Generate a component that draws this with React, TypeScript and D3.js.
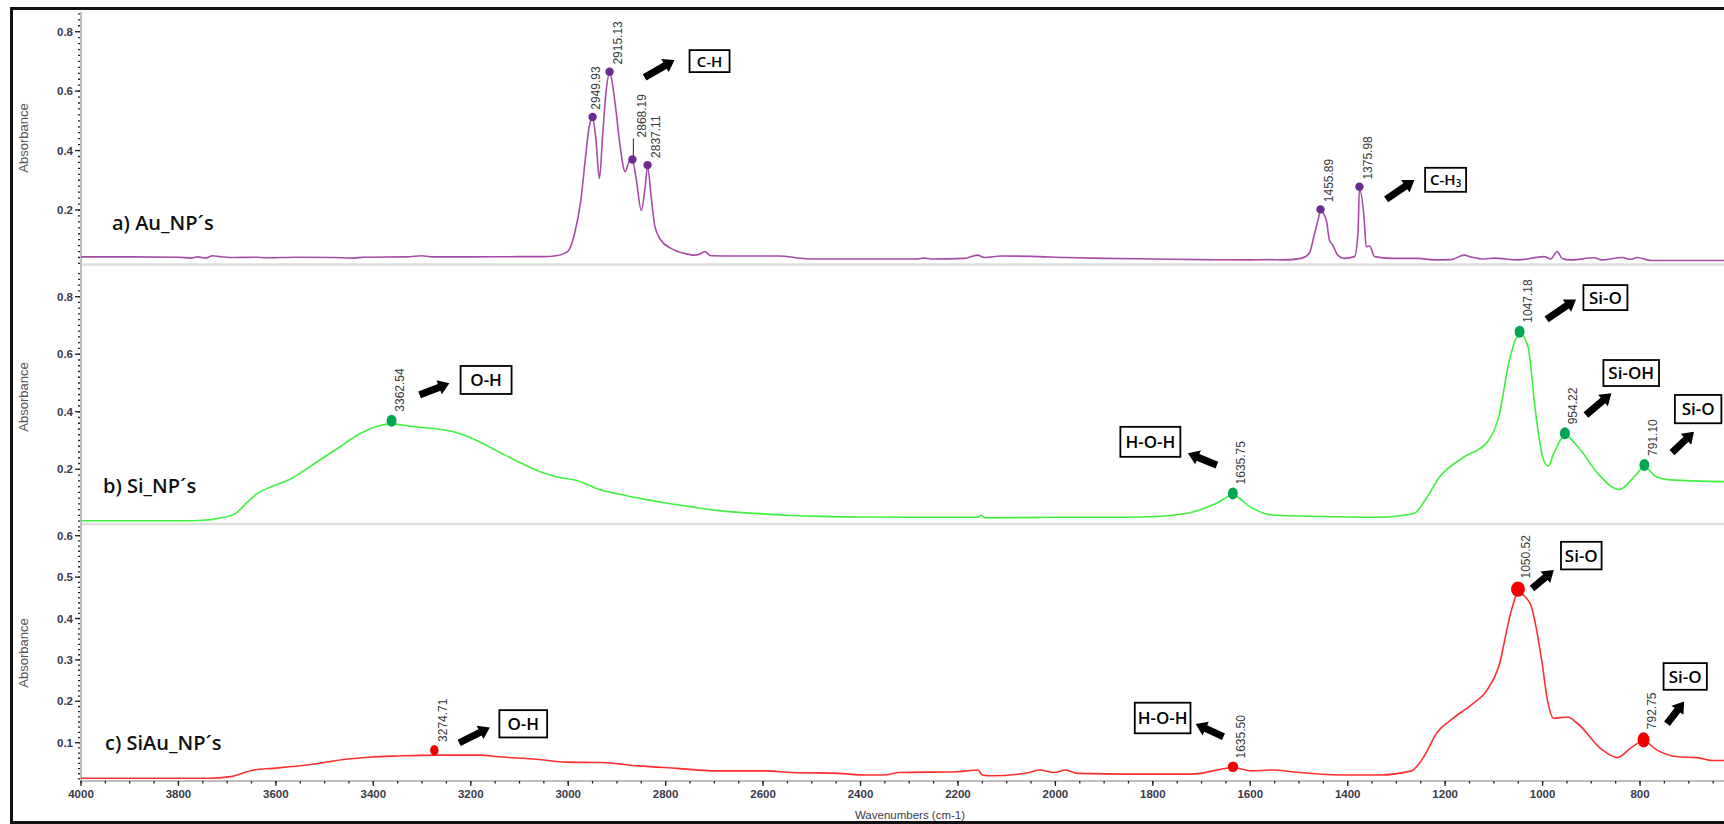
import React from "react";
import * as d3 from "d3";

// ---- spectra: [wavenumber (cm-1), absorbance] ----
const auSpectrum: [number, number][] = [
  [4000, 0.042], [3900, 0.042], [3800, 0.041], [3775, 0.038], [3760, 0.042], [3745, 0.038],
  [3730, 0.046], [3715, 0.043], [3690, 0.040], [3640, 0.041], [3620, 0.039], [3560, 0.041],
  [3480, 0.040], [3440, 0.038], [3420, 0.041], [3330, 0.042], [3300, 0.046], [3280, 0.042],
  [3200, 0.042], [3100, 0.043], [3050, 0.043], [3025, 0.046], [3001, 0.06], [2987, 0.12],
  [2974, 0.233], [2963, 0.4], [2957, 0.48], [2950, 0.51], [2943, 0.435], [2936, 0.306],
  [2929, 0.458], [2922, 0.603], [2915.13, 0.66], [2902, 0.536], [2895, 0.435], [2883, 0.329],
  [2874, 0.365], [2868.19, 0.366], [2860, 0.3], [2850, 0.198], [2842, 0.278], [2837.11, 0.346],
  [2829, 0.233], [2822, 0.144], [2810, 0.099], [2789, 0.071], [2762, 0.054], [2741, 0.048],
  [2725, 0.055], [2720, 0.06], [2707, 0.046], [2650, 0.045], [2570, 0.045], [2502, 0.035],
  [2400, 0.035], [2283, 0.035], [2270, 0.038], [2255, 0.035], [2187, 0.037], [2160, 0.048],
  [2146, 0.04], [2111, 0.045], [2050, 0.044], [1980, 0.04], [1900, 0.037], [1800, 0.035],
  [1700, 0.033], [1599, 0.032], [1564, 0.033], [1530, 0.032], [1496, 0.037], [1479, 0.054],
  [1468, 0.121], [1461, 0.166], [1455.89, 0.196], [1444, 0.166], [1437.6, 0.099], [1430.7, 0.082],
  [1420.5, 0.048], [1407, 0.037], [1386, 0.043], [1379, 0.12], [1375.98, 0.27], [1366.6, 0.177],
  [1362, 0.076], [1355, 0.079], [1345, 0.043], [1311, 0.037], [1256, 0.037], [1222, 0.032],
  [1188, 0.033], [1161, 0.048], [1147, 0.042], [1120, 0.035], [1099, 0.038], [1051, 0.032],
  [997, 0.043], [983.5, 0.035], [970, 0.06], [960, 0.037], [942, 0.032], [894, 0.039],
  [880, 0.032], [836, 0.04], [820, 0.034], [805, 0.04], [778, 0.03], [627, 0.03],
];

const siSpectrum: [number, number][] = [
  [4000, 0.021], [3800, 0.021], [3748, 0.023], [3717, 0.03], [3685, 0.044], [3661, 0.082],
  [3638, 0.116], [3614, 0.136], [3567, 0.169], [3520, 0.221], [3473, 0.273], [3426, 0.325],
  [3395, 0.348], [3362.54, 0.358], [3316, 0.348], [3277, 0.342], [3237, 0.331], [3190, 0.302],
  [3143, 0.261], [3096, 0.221], [3049, 0.186], [3010, 0.169], [2986, 0.163], [2933, 0.128],
  [2900, 0.115], [2850, 0.098], [2800, 0.083], [2750, 0.07], [2700, 0.058], [2650, 0.05],
  [2600, 0.045], [2550, 0.04], [2500, 0.037], [2400, 0.034], [2300, 0.033], [2160, 0.033],
  [2152, 0.04], [2145, 0.031], [2000, 0.033], [1900, 0.033], [1804, 0.035], [1729, 0.047],
  [1669, 0.082], [1635.75, 0.11], [1601, 0.07], [1556, 0.041], [1428, 0.035], [1338, 0.033],
  [1263.5, 0.047], [1241, 0.093], [1211, 0.174], [1166, 0.238], [1113, 0.296], [1090, 0.383],
  [1068, 0.58], [1052.7, 0.661], [1047.18, 0.672], [1030, 0.626], [1015, 0.406], [1000, 0.244],
  [989, 0.211], [977, 0.255], [954.22, 0.318], [925, 0.273], [887, 0.186], [842, 0.13],
  [812, 0.174], [791.1, 0.208], [767, 0.174], [737, 0.163], [626, 0.157],
];

const siAuSpectrum: [number, number][] = [
  [4000, 0.014], [3740, 0.014], [3693, 0.018], [3646, 0.034], [3607, 0.038], [3536, 0.046],
  [3457, 0.06], [3410, 0.065], [3347, 0.068], [3274.71, 0.07], [3182, 0.07], [3143, 0.066],
  [3065, 0.06], [3002, 0.053], [2933, 0.052], [2855, 0.044], [2776, 0.038], [2697, 0.032],
  [2595, 0.032], [2540, 0.028], [2446, 0.026], [2391, 0.022], [2352, 0.022], [2320, 0.028],
  [2202, 0.03], [2159, 0.034], [2150, 0.022], [2132, 0.02], [2053, 0.028], [2034, 0.034],
  [2002, 0.028], [1979, 0.034], [1955, 0.026], [1849, 0.024], [1724, 0.024], [1702, 0.026],
  [1661, 0.036], [1635.5, 0.04], [1597, 0.032], [1556, 0.034], [1498, 0.028], [1417, 0.022],
  [1335, 0.022], [1269.5, 0.032], [1253, 0.05], [1236, 0.082], [1220, 0.119], [1188, 0.155],
  [1147, 0.191], [1114, 0.227], [1090, 0.284], [1065.5, 0.413], [1050.52, 0.462], [1026, 0.437],
  [1002, 0.3], [990, 0.203], [977.6, 0.159], [949, 0.162], [928.7, 0.147], [880, 0.085],
  [847, 0.064], [816, 0.09], [792.75, 0.104], [765, 0.082], [724, 0.066], [683, 0.064],
  [652, 0.057], [626, 0.057],
];

// ---- picked peaks ----
const auPeakWavenumbers = [2949.93, 2915.13, 2868.19, 2837.11, 1455.89, 1375.98];
const auPeakAbsorbance = [0.513, 0.665, 0.37, 0.351, 0.202, 0.278];
const siPeakWavenumbers = [3362.54, 1635.75, 1047.18, 954.22, 791.1];
const siPeakAbsorbance = [0.369, 0.116, 0.678, 0.325, 0.215];
const siAuPeakWavenumbers = [3274.71, 1635.5, 1050.52, 792.75];
const siAuPeakAbsorbance = [0.082, 0.042, 0.471, 0.107];

// ---- axes ----
const xTickValues = [4000, 3800, 3600, 3400, 3200, 3000, 2800, 2600, 2400, 2200, 2000, 1800, 1600, 1400, 1200, 1000, 800];
const auTickValues = [0.2, 0.4, 0.6, 0.8];
const siTickValues = [0.2, 0.4, 0.6, 0.8];
const siAuTickValues = [0.1, 0.2, 0.3, 0.4, 0.5, 0.6];

const sampleNames = ["a) Au_NP\u00b4s", "b) Si_NP\u00b4s", "c) SiAu_NP\u00b4s"];

// bond assignments: which peak they point from, and the text in the box
const bondPanels = [0, 0, 1, 1, 1, 1, 1, 2, 2, 2, 2];
const bondPeaks = [2915.13, 1375.98, 3362.54, 1635.75, 1047.18, 954.22, 791.1, 3274.71, 1635.5, 1050.52, 792.75];
const bondTexts = ["C-H", "C-H", "O-H", "H-O-H", "Si-O", "Si-OH", "Si-O", "O-H", "H-O-H", "Si-O", "Si-O"];
const bondSubscripts = ["", "3", "", "", "", "", "", "", "", "", ""];

// layout of each bond note, relative to its peak marker: arrow tail, arrow head, box [dx, dy, w, h]
const bondLayout = [
  { tail: [35, 5.6], head: [65, -11.7], box: [80, -21.7, 40, 22], fs: 15 },
  { tail: [26.7, 12.6], head: [55, -6.7], box: [65.7, -19, 41, 24], fs: 15 },
  { tail: [28, -25.7], head: [57.8, -37.4], box: [69, -54.7, 51, 28], fs: 17 },
  { tail: [-16, -28.3], head: [-45, -40.3], box: [-112.5, -66.6, 60, 30], fs: 17 },
  { tail: [27, -12.4], head: [56.4, -32.4], box: [63.8, -46.7, 44, 25], fs: 17 },
  { tail: [21, -18.3], head: [46.5, -40], box: [38.5, -73.3, 55.6, 26], fs: 17 },
  { tail: [27.6, -12.3], head: [49.6, -33.3], box: [30.5, -70, 46.5, 28.3], fs: 17 },
  { tail: [24.8, -7.3], head: [55.5, -22.7], box: [65, -40, 47.8, 27.3], fs: 17 },
  { tail: [-9.5, -30], head: [-37.3, -42.7], box: [-98.2, -64, 55.7, 30.6], fs: 17 },
  { tail: [14, -0.7], head: [35.8, -19], box: [43, -47.3, 40.6, 27.6], fs: 17 },
  { tail: [23.4, -16], head: [40.6, -38.3], box: [20, -76.7, 43.3, 26.7], fs: 17 },
];

const FONT = "'Liberation Sans', Arial, sans-serif";
const NOTE_FONT = "'Open Sans', 'DejaVu Sans', sans-serif";

// thick block arrow from (x1,y1) to (x2,y2)
function blockArrow(x1: number, y1: number, x2: number, y2: number) {
  const L = Math.hypot(x2 - x1, y2 - y1);
  const a = (Math.atan2(y2 - y1, x2 - x1) * 180) / Math.PI;
  const s = 3.6, h = 7.5, hl = 11;
  const pts = [[0, -s], [L - hl, -s], [L - hl, -h], [L, 0], [L - hl, h], [L - hl, s], [0, s]];
  return { points: pts.map((p) => p.join(",")).join(" "), transform: `translate(${x1},${y1}) rotate(${a})` };
}

export default function App() {
  const x = d3.scaleLinear().domain([4000, 400]).range([81, 81 + 3600 * 0.4872]);

  const panels = [
    {
      y: d3.scaleLinear().domain([0, 0.8]).range([269.4, 31.7]),
      extent: [0.005, 0.865], minorStep: 0.02,
      data: auSpectrum, peaks: auPeakWavenumbers, peakAbs: auPeakAbsorbance, ticks: auTickValues,
      line: "#a64ca6", dot: "#6a2c91", dotR: [[4.2, 4.2]],
      name: sampleNames[0], nameX: 112, nameY: 230, titleY: 138,
    },
    {
      y: d3.scaleLinear().domain([0, 0.8]).range([526.8, 296.7]),
      extent: [0.0, 0.9], minorStep: 0.02,
      data: siSpectrum, peaks: siPeakWavenumbers, peakAbs: siPeakAbsorbance, ticks: siTickValues,
      line: "#3ff03f", dot: "#00a650", dotR: [[5, 6]],
      name: sampleNames[1], nameX: 103, nameY: 493, titleY: 397,
    },
    {
      y: d3.scaleLinear().domain([0, 0.6]).range([784.1, 535.7]),
      extent: [0.007, 0.62], minorStep: 0.0125,
      data: siAuSpectrum, peaks: siAuPeakWavenumbers, peakAbs: siAuPeakAbsorbance, ticks: siAuTickValues,
      line: "#ff2f2f", dot: "#f00000", dotR: [[4.2, 5.2], [5.2, 5.2], [7, 7.6], [6, 7.6]],
      name: sampleNames[2], nameX: 105, nameY: 750, titleY: 653,
    },
  ];

  const axisX = 80;
  const axisY = 781;
  const minorX = d3.range(4000, 620, -50);

  return (
    <svg width={1724} height={824} style={{ position: "absolute", left: 0, top: 0, background: "#fff" }}>
      <rect x={0} y={0} width={1724} height={824} fill="#fff" />

      {/* panel separators */}
      <line x1={82} x2={1724} y1={264.5} y2={264.5} stroke="#dedede" strokeWidth={2.5} />
      <line x1={82} x2={1724} y1={524} y2={524} stroke="#dedede" strokeWidth={2.5} />

      {/* y axis line */}
      <line x1={axisX + 1} x2={axisX + 1} y1={12} y2={axisY} stroke="#a8a8a8" strokeWidth={1.5} />

      {panels.map((p, pi) => {
        const lineGen = d3
          .line<[number, number]>()
          .x((d) => x(d[0]))
          .y((d) => p.y(d[1]))
          .curve(d3.curveMonotoneX);
        const minors = d3.range(
          Math.ceil(p.extent[0] / p.minorStep) * p.minorStep,
          p.extent[1],
          p.minorStep
        );
        return (
          <g key={pi}>
            {/* y ticks */}
            {minors.map((v, i) => (
              <line key={i} x1={axisX - 2} x2={axisX} y1={p.y(v)} y2={p.y(v)} stroke="#222" strokeWidth={1.3} />
            ))}
            {p.ticks.map((v) => (
              <g key={v}>
                <line x1={axisX - 5} x2={axisX} y1={p.y(v)} y2={p.y(v)} stroke="#222" strokeWidth={1.3} />
                <text x={axisX - 7} y={p.y(v)} dy="0.35em" textAnchor="end" fontFamily={FONT} fontWeight="bold" fontSize={11.5} fill="#3a3a4a">
                  {v.toFixed(1)}
                </text>
              </g>
            ))}
            <text
              transform={`translate(23,${p.titleY}) rotate(-90)`}
              textAnchor="middle"
              dy="0.35em"
              fontFamily={FONT}
              fontSize={13}
              fill="#555"
            >
              Absorbance
            </text>

            {/* spectrum */}
            <path d={lineGen(p.data) || ""} fill="none" stroke={p.line} strokeWidth={1.6} />

            {/* sample name */}
            <text x={p.nameX} y={p.nameY} fontFamily={NOTE_FONT} fontWeight={600} fontSize={20} fill="#111">
              {p.name}
            </text>

            {/* peak markers and labels */}
            {p.peaks.map((w, i) => {
              const cx = x(w);
              const cy = p.y(p.peakAbs[i]);
              const r = p.dotR[Math.min(i, p.dotR.length - 1)];
              const leader = pi === 0 && w === 2868.19;
              const lx = cx + (pi === 0 && w === 2949.93 ? 3 : leader ? 9 : 8);
              const ly = cy - (leader ? 22 : r[1] + 3);
              return (
                <g key={w}>
                  {leader && <line x1={cx + 1} x2={cx + 1} y1={cy - 3} y2={cy - 21} stroke="#444" strokeWidth={1.2} />}
                  <ellipse cx={cx} cy={cy} rx={r[0]} ry={r[1]} fill={p.dot} />
                  <text
                    transform={`translate(${lx},${ly}) rotate(-90)`}
                    dy="0.35em"
                    fontFamily={FONT}
                    fontSize={12}
                    fill="#3a3a3a"
                  >
                    {w.toFixed(2)}
                  </text>
                </g>
              );
            })}
          </g>
        );
      })}

      {/* bond notes: arrow + boxed label */}
      {bondPeaks.map((w, i) => {
        const p = panels[bondPanels[i]];
        const k = p.peaks.indexOf(w);
        const cx = x(w);
        const cy = p.y(p.peakAbs[k]);
        const L = bondLayout[i];
        const arr = blockArrow(cx + L.tail[0], cy + L.tail[1], cx + L.head[0], cy + L.head[1]);
        const [bx, by, bw, bh] = L.box;
        return (
          <g key={i}>
            <polygon points={arr.points} transform={arr.transform} fill="#000" />
            <rect x={cx + bx} y={cy + by} width={bw} height={bh} fill="#fff" stroke="#000" strokeWidth={1.8} />
            <text
              x={cx + bx + bw / 2}
              y={cy + by + bh / 2}
              dy="0.36em"
              textAnchor="middle"
              fontFamily={NOTE_FONT}
              fontWeight={600}
              fontSize={L.fs}
              fill="#000"
            >
              {bondTexts[i]}
              {bondSubscripts[i] && (
                <tspan fontSize={L.fs * 0.65} dy="0.15em">
                  {bondSubscripts[i]}
                </tspan>
              )}
            </text>
          </g>
        );
      })}

      {/* x axis */}
      <line x1={axisX} x2={1724} y1={axisY} y2={axisY} stroke="#a8a8a8" strokeWidth={1.5} />
      {minorX.map((w) => (
        <line key={w} x1={x(w)} x2={x(w)} y1={axisY} y2={axisY + 2.5} stroke="#222" strokeWidth={1.3} />
      ))}
      {xTickValues.map((w) => (
        <g key={w}>
          <line x1={x(w)} x2={x(w)} y1={axisY} y2={axisY + 5} stroke="#222" strokeWidth={1.3} />
          <text x={x(w)} y={axisY + 17} textAnchor="middle" fontFamily={FONT} fontWeight="bold" fontSize={11.5} fill="#3a3a4a">
            {w}
          </text>
        </g>
      ))}
      <text x={910} y={819} textAnchor="middle" fontFamily={FONT} fontSize={11.5} fill="#3a3a4a">
        Wavenumbers (cm-1)
      </text>

      {/* frame */}
      <rect x={11.5} y={8.5} width={1800} height={814} fill="none" stroke="#111" strokeWidth={3} />
    </svg>
  );
}
